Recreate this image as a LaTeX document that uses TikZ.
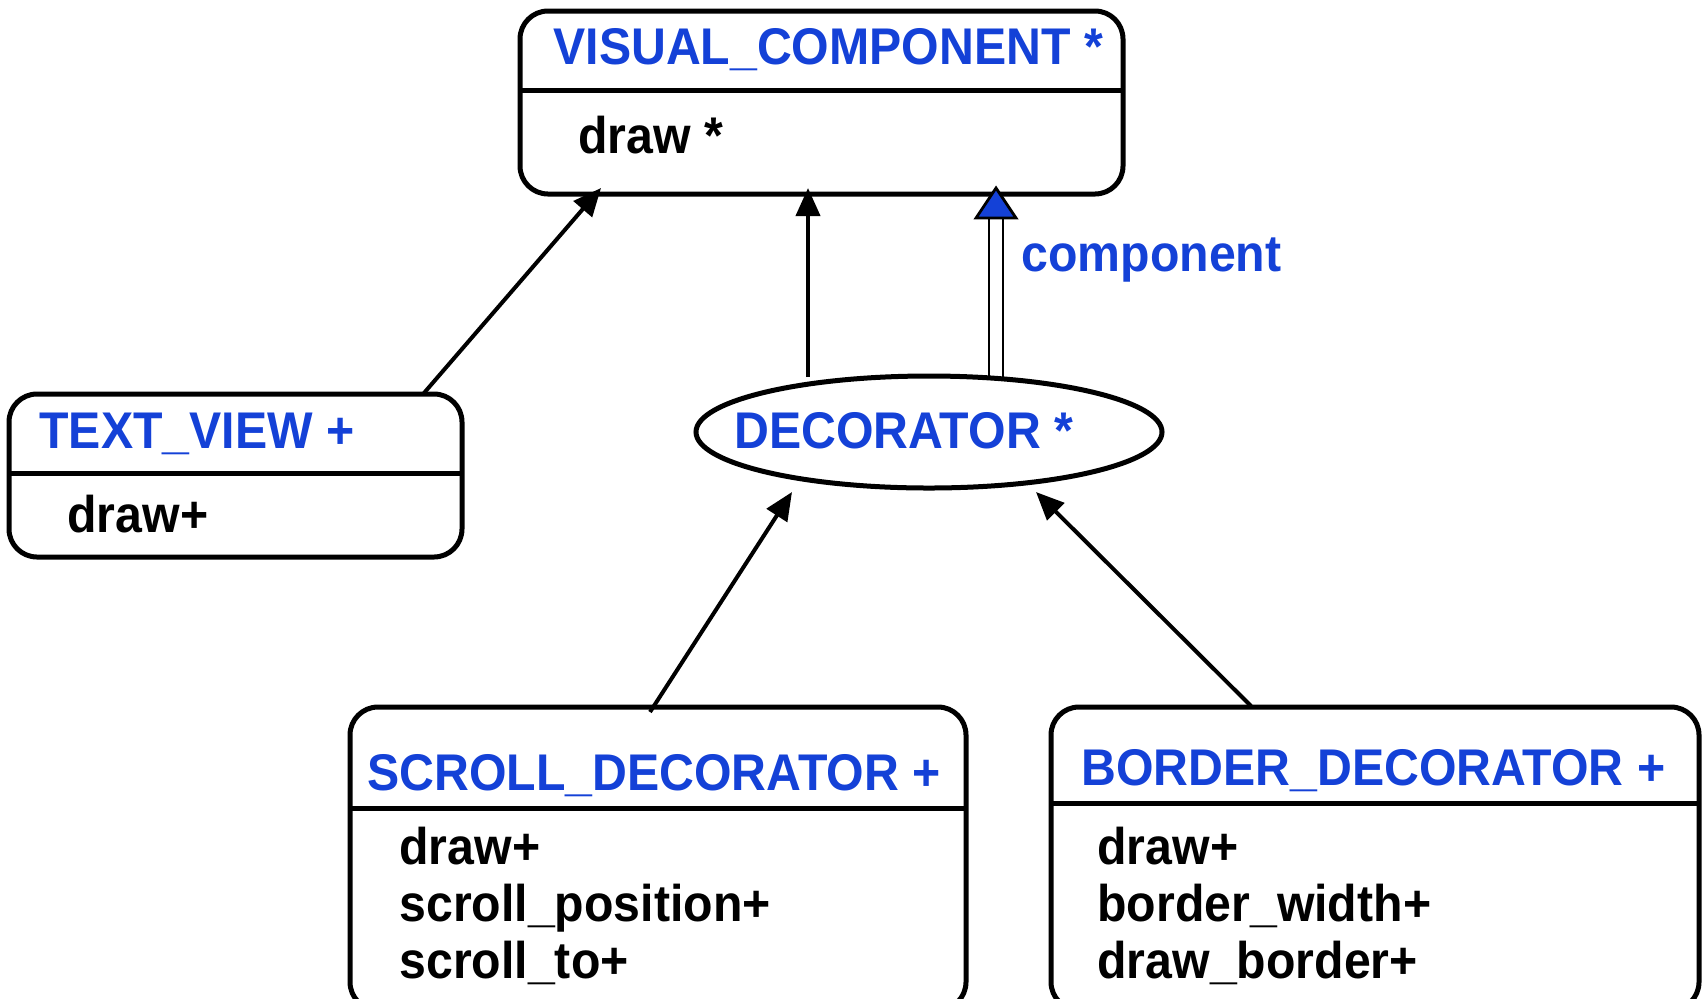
\documentclass[tikz,border=0pt]{standalone}
\usepackage{fontspec}
\setmainfont{Liberation Sans}[FakeStretch=0.935]
\usetikzlibrary{shapes.geometric,arrows.meta,calc}
\definecolor{eblue}{RGB}{20,65,215}
\tikzset{
  cls/.style={draw=black,line width=2.5pt,rounded corners=14pt},
  sep/.style={draw=black,line width=2.5pt},
  ttl/.style={anchor=base west,inner sep=0pt,font=\fontsize{25.8pt}{30pt}\selectfont\bfseries,text=eblue},
  feat/.style={anchor=base west,inner sep=0pt,font=\fontsize{25.8pt}{30pt}\selectfont\bfseries,text=black},
  inh/.style={line width=2pt,-{Triangle[length=14pt,width=12pt]}},
}
\begin{document}
\begin{tikzpicture}[x=0.5pt,y=-0.5pt]
\useasboundingbox (0,0) rectangle (1706,998);
% VISUAL_COMPONENT
\draw[cls] (520,11) rectangle (1123,194);
\draw[sep] (520,90) -- (1123,90);
\node[ttl] (vct) at (553,64) {VISUAL\_COMPONENT *};
\node[feat] (vcf) at (578,153) {draw *};
\coordinate (vcA) at (601,188);
\coordinate (vcB) at (808,188);
\coordinate (vcC) at (996,188);
% TEXT_VIEW
\draw[cls] (9,394) rectangle (462,557);
\draw[sep] (9,473) -- (462,473);
\node[ttl] (tvt) at (39,448) {TEXT\_VIEW +};
\node[feat] (tvf) at (67,532) {draw+};
\coordinate (tvTop) at (424,393);
% DECORATOR
\node[draw=black,line width=2.5pt,ellipse,minimum width=466pt*0.5,minimum height=112pt*0.5,inner sep=0pt] (dec) at (929,432) {};
\node[ttl] (dect) at (734,448) {DECORATOR *};
\coordinate (decA) at (808,377);
\coordinate (decC) at (996,377);
\coordinate (decL) at (792,492);
\coordinate (decR) at (1036,492);
% SCROLL_DECORATOR
\draw[cls] (350,707) rectangle (966,1010);
\draw[sep] (350,808) -- (966,808);
\node[ttl] (sdt) at (367,790) {SCROLL\_DECORATOR +};
\node[feat] (sd1) at (399,864) {draw+};
\node[feat] (sd2) at (399,921) {scroll\_position+};
\node[feat] (sd3) at (399,978) {scroll\_to+};
\coordinate (sdTop) at (650,712);
% BORDER_DECORATOR
\draw[cls] (1051,707) rectangle (1699,1010);
\draw[sep] (1051,803) -- (1699,803);
\node[ttl] (bdt) at (1081,785) {BORDER\_DECORATOR +};
\node[feat] (bd1) at (1097,864) {draw+};
\node[feat] (bd2) at (1097,921) {border\_width+};
\node[feat] (bd3) at (1097,978) {draw\_border+};
\coordinate (bdTop) at (1251,706);
% connectors
\draw[inh] (tvTop) -- (vcA);
\draw[inh] (decA) -- (vcB);
\draw[inh] (sdTop) -- (decL);
\draw[inh] (bdTop) -- (decR);
% client link (double line with blue triangle)
\draw[line width=1.3pt] ($(decC)+(-7,0)$) -- ($(vcC)+(-7,30)$);
\draw[line width=1.3pt] ($(decC)+(7,0)$) -- ($(vcC)+(7,30)$);
\draw[line width=1.4pt,fill=eblue,line join=miter] (vcC) -- ($(vcC)+(-20,30)$) -- ($(vcC)+(20,30)$) -- cycle;
\node[ttl] (lbl) at (1021,271) {component};
\end{tikzpicture}
\end{document}
